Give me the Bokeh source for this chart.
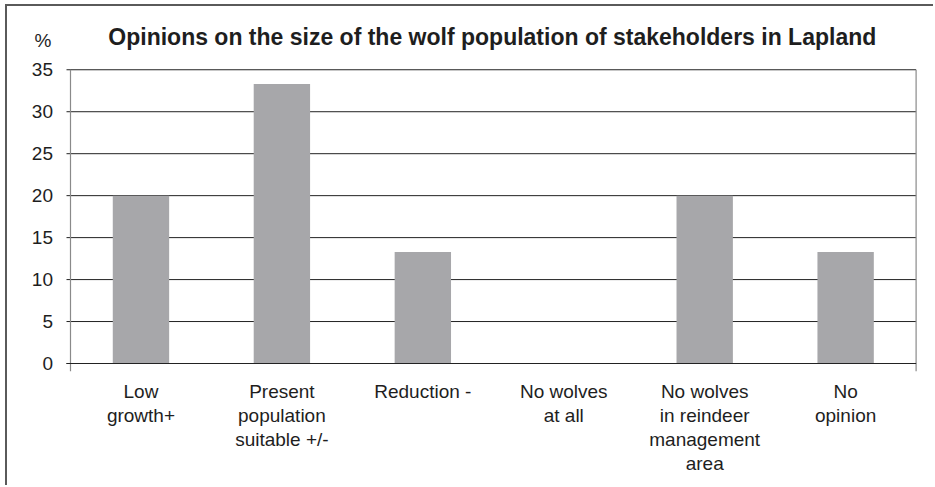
from bokeh.plotting import figure
from bokeh.models import FixedTicker, Range1d
from bokeh.core.properties import value
from bokeh.embed import file_html
from bokeh.resources import INLINE

# ---- data ----
categories = [
    "Low\ngrowth+",
    "Present\npopulation\nsuitable +/-",
    "Reduction -",
    "No wolves\nat all",
    "No wolves\nin reindeer\nmanagement\narea",
    "No\nopinion",
]
values = [20.0, 33.3, 13.3, 0.0, 20.0, 13.3]
y_ticks = [0, 5, 10, 15, 20, 25, 30, 35]
y_tick_labels = ["0", "5", "10", "15", "20", "25", "30", "35"]
title_text = "Opinions on the size of the wolf population of stakeholders in Lapland"
y_unit = "%"

FONT = "Liberation Sans"
TXT = "#1e1e1e"
DARK = "#222222"
GREY = "#8a8a8a"

# ---- layout constants (pixels) ----
PX_X = 140.93          # pixels per category
PX_Y = 8.4             # pixels per percent
n = len(categories)
positions = list(range(1, n + 1))
ax_left = 0.5                      # value axis sits at left edge of first category
ax_right = n + 0.5                 # right border of plot area
y_top = y_ticks[-1]

p = figure(
    x_range=Range1d(ax_left - 42 / PX_X, ax_right + 1.4 / PX_X),
    y_range=Range1d(-8 / PX_Y, y_top + 45.3 / PX_Y),
    width=928,
    height=481,
    output_backend="svg",
    toolbar_location=None,
    y_axis_location=None,
    min_border_left=21,
    min_border_right=18,
    min_border_top=18,
    min_border_bottom=116,
)
p.styles = {"margin-left": "5px", "margin-top": "4px",
            "border-left": "2px solid #5a5a5a", "border-top": "2px solid #5a5a5a"}
p.outline_line_color = None
p.background_fill_color = "white"
p.border_fill_color = "white"
p.xgrid.grid_line_color = None
p.ygrid.grid_line_color = None

# horizontal gridlines (with outside tick stubs)
p.segment(x0=[ax_left - 4 / PX_X] * len(y_ticks), y0=y_ticks,
          x1=[ax_right] * len(y_ticks), y1=y_ticks,
          line_color=DARK, line_width=1)

# bars
p.vbar(x=positions, top=values, width=0.4, fill_color="#a7a7aa", line_color=None)

# value axis line and right border of the plot area
p.segment(x0=[ax_left, ax_right], y0=[-8 / PX_Y] * 2, x1=[ax_left, ax_right],
          y1=[y_top] * 2, line_color=GREY, line_width=1.2)
# redraw zero line over the bars' base
p.segment(x0=[ax_left - 4 / PX_X], y0=[0], x1=[ax_right], y1=[0],
          line_color=DARK, line_width=1)

# y tick labels
p.text(x=[ax_left] * len(y_ticks), y=y_ticks, text=y_tick_labels,
       x_offset=-17.5, text_align="right", text_baseline="middle",
       text_font=value(FONT), text_font_size="19px", text_color=TXT)

# unit label and title
p.text(x=[ax_left], y=[y_top + 29 / PX_Y], text=[y_unit], x_offset=-27.5,
       text_align="center", text_baseline="alphabetic",
       text_font=value(FONT), text_font_size="19px", text_color=TXT)
p.text(x=[(n + 1) / 2], y=[y_top + 32.3 / PX_Y], text=[title_text], x_offset=-1,
       text_align="center", text_baseline="alphabetic",
       text_font=value(FONT), text_font_size="23px", text_font_style="bold",
       text_color=TXT)

# category axis
xa = p.xaxis[0]
xa.ticker = FixedTicker(ticks=positions)
xa.major_label_overrides = {pos: lab for pos, lab in zip(positions, categories)}
xa.axis_line_color = None
xa.major_tick_line_color = None
xa.minor_tick_line_color = None
xa.major_tick_out = 0
xa.major_tick_in = 0
xa.major_label_text_font = FONT
xa.major_label_text_font_size = "19px"
xa.major_label_text_color = TXT
xa.major_label_text_line_height = 1.15
xa.major_label_standoff = 9
xa.major_label_orientation = "horizontal"

open("out.html", "w").write(file_html(p, INLINE))
